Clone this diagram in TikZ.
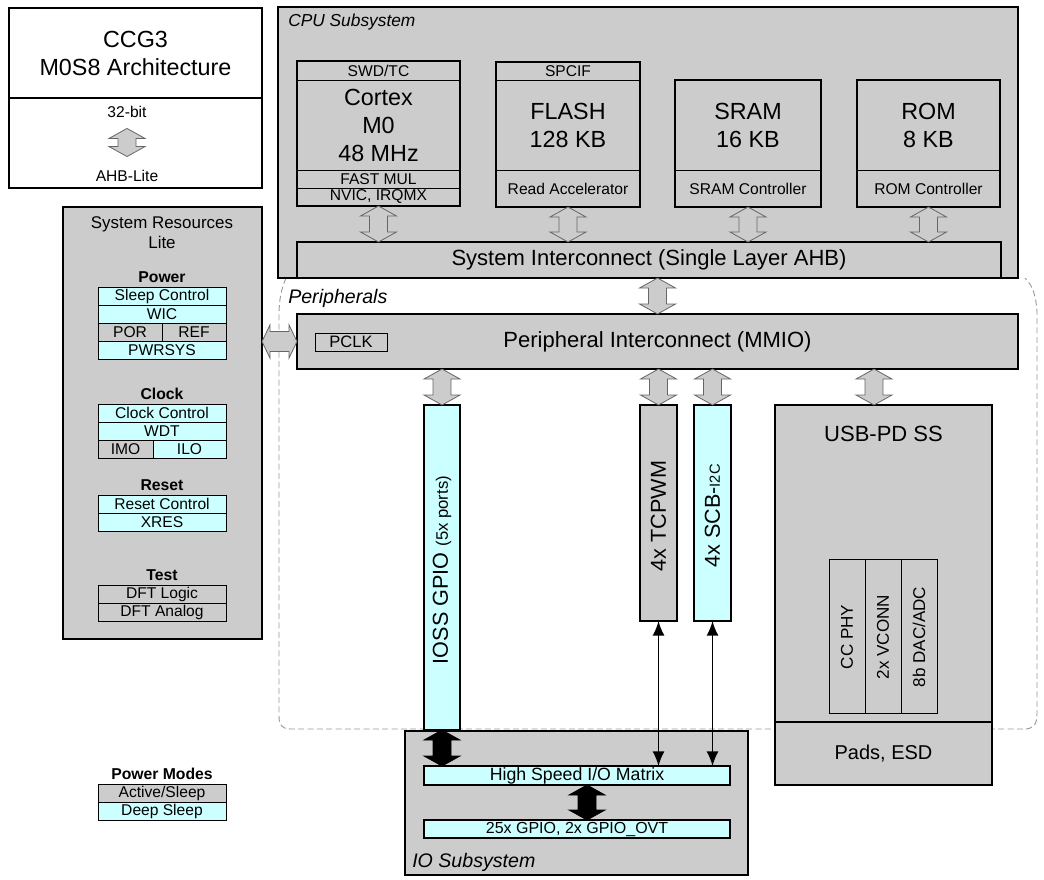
\documentclass[tikz,border=0pt]{standalone}
\usepackage{fontspec}
\setmainfont{Liberation Sans}
\usetikzlibrary{calc,arrows.meta}

\definecolor{chipgray}{HTML}{CCCCCC}
\definecolor{chipcyan}{HTML}{CCFFFF}

% Busp"feile (hohl)
\newcommand{\busv}[3][busarrow]{%
  \path[#1] let \p1=(#2), \p2=(#3) in
    (\x1,\y1) -- (\x1+13.5pt,\y1-7.5pt) -- (\x1+6.75pt,\y1-7.5pt)
    -- (\x1+6.75pt,\y2+7.5pt) -- (\x1+13.5pt,\y2+7.5pt) -- (\x1,\y2)
    -- (\x1-13.5pt,\y2+7.5pt) -- (\x1-6.75pt,\y2+7.5pt)
    -- (\x1-6.75pt,\y1-7.5pt) -- (\x1-13.5pt,\y1-7.5pt) -- cycle;}
\newcommand{\bush}[3][busarrow]{%
  \path[#1] let \p1=(#2), \p2=(#3) in
    (\x1,\y2) -- (\x1+6pt,\y2+12.5pt) -- (\x1+6pt,\y2+7.5pt)
    -- (\x2-6pt,\y2+7.5pt) -- (\x2-6pt,\y2+12.5pt) -- (\x2,\y2)
    -- (\x2-6pt,\y2-12.5pt) -- (\x2-6pt,\y2-7.5pt)
    -- (\x1+6pt,\y2-7.5pt) -- (\x1+6pt,\y2-12.5pt) -- cycle;}

\begin{document}
\begin{tikzpicture}[x=0.75pt,y=-0.75pt,
    sz/.style 2 args={minimum width=#1*0.75pt,minimum height=#2*0.75pt},
    blk/.style={draw,line width=1.5pt,fill=chipgray,inner sep=0pt,outer sep=0pt,align=center},
    frame/.style={draw,line width=1.5pt,inner sep=0pt,outer sep=0pt},
    cell/.style={draw,line width=0.75pt,fill=chipgray,inner sep=0pt,outer sep=0pt,font=\fontsize{11.7}{14}\selectfont},
    ccell/.style={cell,fill=chipcyan},
    bigtxt/.style={font=\fontsize{17.5}{21}\selectfont},
    bustxt/.style={font=\fontsize{16.5}{20}\selectfont},
    smalltxt/.style={font=\fontsize{11.7}{14}\selectfont},
    head/.style={font=\bfseries\fontsize{11.8}{14}\selectfont},
    areatxt/.style={font=\itshape\fontsize{14.7}{17}\selectfont,anchor=west,inner sep=0pt},
    vtxt/.style={rotate=90,font=\fontsize{16.2}{19}\selectfont},
    busarrow/.style={fill=chipgray,draw=black!60,line width=0.6pt},
    blackbus/.style={fill=black,draw=black,line width=0.6pt},
    sig/.style={{Latex[length=11pt,width=9pt]}-{Latex[length=11pt,width=9pt]},line width=1.1pt},
    periph/.style={draw=black!40,dash pattern=on 4.5pt off 2.5pt,line width=0.7pt}]

  \useasboundingbox (0,0) rectangle (1044,879);

  % Peripherie-Bereich
  \draw[periph] (286,278) .. controls (281,290) and (279,300) .. (279,316)
    -- (279,716) .. controls (279,725) and (282,729) .. (291,729)
    -- (1024,729) .. controls (1033,729) and (1037,725) .. (1037,714)
    -- (1037,312) .. controls (1036,296) and (1033,286) .. (1025,278);

  % Titel
  \node[blk,fill=white,bigtxt,sz={253}{90}] (title) at (135.5,53) {CCG3\\M0S8 Architecture};
  \node[blk,fill=white,sz={253}{90}] (titlebus) at (135.5,143) {};
  \node[smalltxt] (bit) at (127,112) {32-bit};
  \node[smalltxt] (ahb) at (127,176) {AHB-Lite};
  \busv{$(bit.south)+(0,6)$}{$(ahb.north)+(0,-9)$}

  % System Resources
  \node[blk,sz={199}{432}] (sysres) at (162.5,423) {};
  \node[align=center,font=\fontsize{12.7}{15}\selectfont] (sysrestitle) at (162,233) {System Resources\\Lite};
  \node[head] (power) at (162,277) {Power};
  \node[ccell,sz={128}{18}] (sleepc) at (162,296) {Sleep Control};
  \node[ccell,sz={128}{18}] (wic) at (162,314) {WIC};
  \node[cell,sz={64}{18}] (por) at (130,332) {POR};
  \node[cell,sz={64}{18}] (ref) at (194,332) {REF};
  \node[ccell,sz={128}{18}] (pwrsys) at (162,350) {PWRSYS};
  \node[head] (clock) at (162,394) {Clock};
  \node[ccell,sz={128}{18}] (clkc) at (162,413) {Clock Control};
  \node[ccell,sz={128}{18}] (wdt) at (162,431) {WDT};
  \node[cell,sz={55}{18}] (imo) at (125.5,449) {IMO};
  \node[ccell,sz={73}{18}] (ilo) at (189.5,449) {ILO};
  \node[head] (reset) at (162,485) {Reset};
  \node[ccell,sz={128}{18}] (rstc) at (162,504) {Reset Control};
  \node[ccell,sz={128}{18}] (xres) at (162,522) {XRES};
  \node[head] (test) at (162,575) {Test};
  \node[cell,sz={128}{18}] (dftl) at (162,594) {DFT Logic};
  \node[cell,sz={128}{18}] (dfta) at (162,612) {DFT Analog};

  % CPU Subsystem
  \node[blk,sz={740}{271}] (cpu) at (648,142.5) {};
  \node[areatxt,font=\itshape\fontsize{13}{15}\selectfont] (cpulbl) at (288,22) {CPU Subsystem};
  \node[cell,sz={163}{19}] (swd) at (378.5,70.5) {SWD/TC};
  \node[cell,bigtxt,align=center,sz={163}{90}] (cortexcore) at (378.5,125) {Cortex\\M0\\48 MHz};
  \node[cell,sz={163}{18}] (fastmul) at (378.5,179) {FAST MUL};
  \node[cell,sz={163}{18}] (nvic) at (378.5,197) {NVIC, IRQMX};
  \node[frame,sz={163}{145}] (cortex) at (378.5,133.5) {};
  \node[cell,sz={144}{18}] (spcif) at (568,71) {SPCIF};
  \node[cell,bigtxt,align=center,sz={144}{90}] (flashcore) at (568,125) {FLASH\\128 KB};
  \node[cell,sz={144}{37}] (racc) at (568,188.5) {Read Accelerator};
  \node[frame,sz={144}{145}] (flash) at (568,134.5) {};
  \node[cell,bigtxt,align=center,sz={146}{90}] (sramcore) at (748,125) {SRAM\\16 KB};
  \node[cell,sz={146}{37}] (sramctrl) at (748,188.5) {SRAM Controller};
  \node[frame,sz={146}{127}] (sram) at (748,143.5) {};
  \node[cell,bigtxt,align=center,sz={143}{90}] (romcore) at (928.5,125) {ROM\\8 KB};
  \node[cell,sz={143}{37}] (romctrl) at (928.5,188.5) {ROM Controller};
  \node[frame,sz={143}{127}] (rom) at (928.5,143.5) {};
  \node[blk,bustxt,sz={704}{36}] (sysic) at (649,260) {System Interconnect (Single Layer AHB)};
  \busv{cortex.south}{sysic.north}
  \busv{flash.south}{sysic.north}
  \busv{sram.south}{sysic.north}
  \busv{rom.south}{sysic.north}

  % Peripherie
  \node[areatxt] (periphlbl) at (288,298) {Peripherals};
  \node[blk,bustxt,sz={721}{55}] (pinter) at (657.5,341.5) {Peripheral Interconnect (MMIO)};
  \node[cell,fill=none,font=\fontsize{12.4}{15}\selectfont,sz={72}{18}] (pclk) at (351,342) {PCLK};
  \busv{sysic.south -| pinter.north}{pinter.north}

  \node[blk,fill=chipcyan,sz={36}{325}] (ioss) at (442,567.5) {};
  \node[vtxt] (iosslbl) at (442,570) {IOSS GPIO {\fontsize{12.5}{15}\selectfont(5x ports)}};
  \node[blk,sz={37}{216}] (tcpwm) at (658.5,513) {};
  \node[vtxt] (tcpwmlbl) at (658.5,516) {4x TCPWM};
  \node[blk,fill=chipcyan,sz={37}{216}] (scb) at (712.5,513) {};
  \node[vtxt] (scblbl) at (712.5,516) {4x SCB-{\fontsize{11}{13}\selectfont I2C}};

  \node[blk,sz={217}{317}] (usb) at (883.5,563.5) {};
  \node[bustxt] (usblbl) at (883.5,434) {USB-PD SS};
  \node[blk,font=\fontsize{15}{18}\selectfont,sz={217}{63}] (pads) at (883.5,753.5) {Pads, ESD};
  \node[cell,sz={36}{154}] (ccphy) at (847,636) {};
  \node[cell,sz={36}{154}] (vconn) at (883,636) {};
  \node[cell,sz={36}{154}] (dacadc) at (919,636) {};
  \node[vtxt,font=\fontsize{12.8}{15}\selectfont] (ccphylbl) at (847,637) {CC PHY};
  \node[vtxt,font=\fontsize{12.8}{15}\selectfont] (vconnlbl) at (883,637) {2x VCONN};
  \node[vtxt,font=\fontsize{12.8}{15}\selectfont] (dacadclbl) at (919,637) {8b DAC/ADC};

  \busv{pinter.south -| ioss.north}{ioss.north}
  \busv{pinter.south -| tcpwm.north}{tcpwm.north}
  \busv{pinter.south -| scb.north}{scb.north}
  \busv{$(pinter.south -| usb.north)+(-9.5,0)$}{usb.north}

  % IO Subsystem
  \node[blk,sz={343}{144}] (iosub) at (576.5,803) {};
  \node[areatxt] (iosublbl) at (412,862) {IO Subsystem};
  \node[ccell,line width=1.3pt,font=\fontsize{13.3}{16}\selectfont,sz={306}{19}] (hsm) at (577,775.5) {High Speed I/O Matrix};
  \node[ccell,line width=1.3pt,font=\fontsize{12}{14}\selectfont,sz={306}{18}] (gpio) at (577,829) {25x GPIO, 2x GPIO\_OVT};
  \busv[blackbus]{ioss.south}{hsm.north}
  \busv[blackbus]{$(hsm.south)+(10,0)$}{gpio.north}
  \draw[sig] (tcpwm.south) -- (tcpwm.south |- hsm.north);
  \draw[sig] (scb.south) -- (scb.south |- hsm.north);

  % Power Modes
  \node[head] (pmodes) at (162,774) {Power Modes};
  \node[cell,sz={128}{18}] (active) at (162,793) {Active/Sleep};
  \node[ccell,sz={128}{18}] (deepsl) at (162,811) {Deep Sleep};

  % Pfeil System Resources
  \bush{sysres.east}{pinter.west}
\end{tikzpicture}
\end{document}
